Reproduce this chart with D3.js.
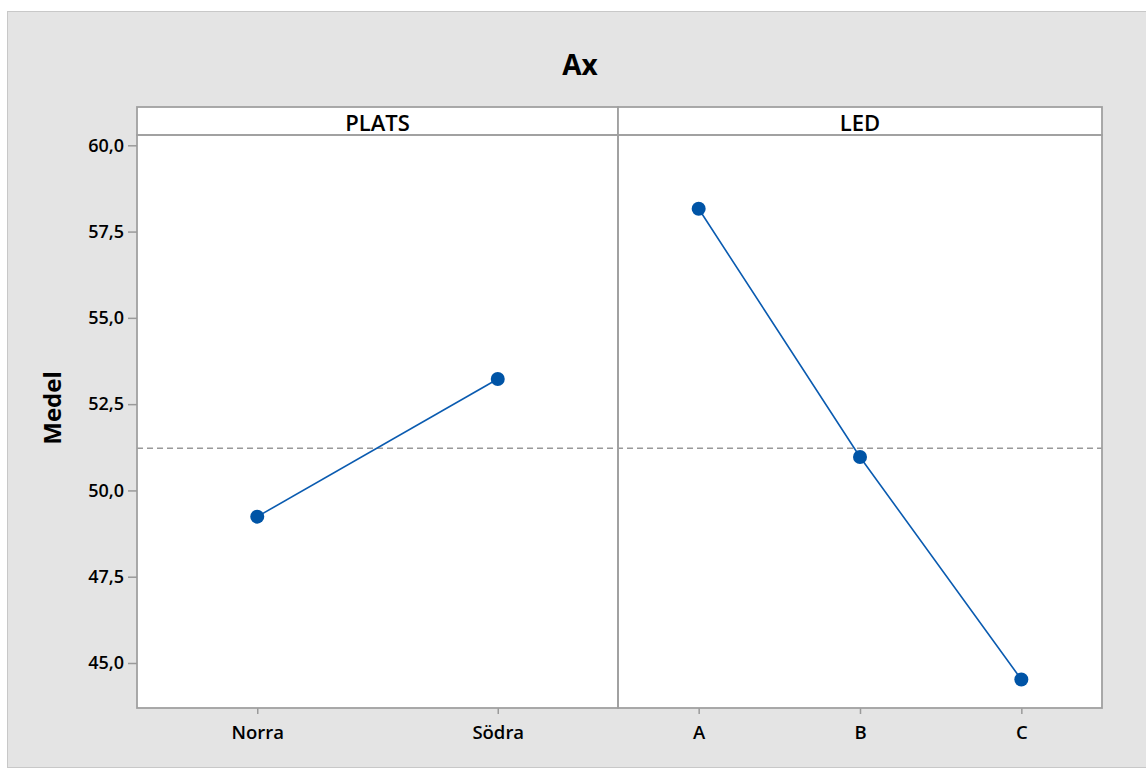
<!DOCTYPE html>
<html>
<head>
<meta charset="utf-8">
<script src="https://cdn.jsdelivr.net/npm/d3@7"></script>
<style>
  body { margin: 0; background: #fff; }
  text { font-family: "Open Sans", "Noto Sans", sans-serif; fill: #000; }
</style>
</head>
<body>
<div id="chart"></div>
<script>
// data
const platsLevels = ["Norra", "Södra"];
const platsMeans = [49.24, 53.23];
const ledLevels = ["A", "B", "C"];
const ledMeans = [58.16, 50.97, 44.52];
const grandMean = 51.22;
const yTicks = [45, 47.5, 50, 52.5, 55, 57.5, 60];

const width = 1146, height = 769;
const panel = { left: 137, top: 107, stripBottom: 135, bottom: 708, split: 618, right: 1102 };

const svg = d3.select("#chart").append("svg")
  .attr("width", width)
  .attr("height", height);

// grey background frame
svg.append("rect")
  .attr("x", 7.5).attr("y", 11.5)
  .attr("width", width).attr("height", 756)
  .attr("fill", "#e4e4e4")
  .attr("stroke", "#c8c8c8");

svg.append("text")
  .attr("x", 580).attr("y", 75)
  .attr("text-anchor", "middle")
  .attr("font-size", "28px")
  .attr("font-weight", "bold")
  .text("Ax");

const yScale = d3.scaleLinear()
  .domain([45, 60])
  .range([663, 145.3]);

const panels = [
  { name: "PLATS", levels: platsLevels, means: platsMeans, x0: panel.left, x1: panel.split },
  { name: "LED", levels: ledLevels, means: ledMeans, x0: panel.split, x1: panel.right }
];

panels.forEach(p => {
  svg.append("rect")
    .attr("x", p.x0).attr("y", panel.top)
    .attr("width", p.x1 - p.x0).attr("height", panel.bottom - panel.top)
    .attr("fill", "#fff");
});

// mean reference line
svg.append("line")
  .attr("x1", panel.left).attr("x2", panel.right)
  .attr("y1", yScale(grandMean)).attr("y2", yScale(grandMean))
  .attr("stroke", "#999")
  .attr("stroke-width", 1.5)
  .attr("stroke-dasharray", "6 4");

panels.forEach(p => {
  const xScale = d3.scalePoint()
    .domain(p.levels)
    .range([p.x0, p.x1])
    .padding(0.5);

  const pts = p.levels.map((lv, i) => ({ lv, v: p.means[i] }));

  svg.append("path")
    .datum(pts)
    .attr("fill", "none")
    .attr("stroke", "#0a5bb0")
    .attr("stroke-width", 1.6)
    .attr("d", d3.line().x(d => xScale(d.lv)).y(d => yScale(d.v)));

  svg.selectAll(null)
    .data(pts)
    .enter()
    .append("circle")
    .attr("cx", d => xScale(d.lv))
    .attr("cy", d => yScale(d.v))
    .attr("r", 7)
    .attr("fill", "#0054a6");

  // x axis
  const xAxis = svg.append("g")
    .attr("transform", `translate(0,${panel.bottom})`)
    .call(d3.axisBottom(xScale).tickSize(6).tickPadding(12));
  xAxis.select(".domain").remove();
  xAxis.selectAll(".tick line").attr("stroke", "#9a9a9a").attr("stroke-width", 1.5);
  xAxis.selectAll(".tick text")
    .attr("font-size", "18.5px")
    .attr("font-weight", "600")
    .attr("font-family", "'Open Sans', sans-serif");

  // strip
  svg.append("rect")
    .attr("x", p.x0).attr("y", panel.top)
    .attr("width", p.x1 - p.x0).attr("height", panel.stripBottom - panel.top)
    .attr("fill", "#fff")
    .attr("stroke", "#a0a0a0")
    .attr("stroke-width", 1.8);
  svg.append("text")
    .attr("x", (p.x0 + p.x1) / 2).attr("y", panel.top + 24)
    .attr("text-anchor", "middle")
    .attr("font-size", "22px")
    .attr("font-weight", "600")
    .text(p.name);

  svg.append("rect")
    .attr("x", p.x0).attr("y", panel.stripBottom)
    .attr("width", p.x1 - p.x0).attr("height", panel.bottom - panel.stripBottom)
    .attr("fill", "none")
    .attr("stroke", "#a0a0a0")
    .attr("stroke-width", 1.8);
});

// y axis
const yAxis = svg.append("g")
  .attr("transform", `translate(${panel.left},0)`)
  .call(d3.axisLeft(yScale)
    .tickValues(yTicks)
    .tickSize(9)
    .tickPadding(4)
    .tickFormat(d => d3.format(".1f")(d).replace(".", ",")));
yAxis.select(".domain").remove();
yAxis.selectAll(".tick line").attr("stroke", "#9a9a9a").attr("stroke-width", 1.5);
yAxis.selectAll(".tick text")
  .attr("font-size", "18px")
  .attr("font-weight", "600")
  .attr("font-family", "'Open Sans', sans-serif");

svg.append("text")
  .attr("transform", "translate(61,408) rotate(-90)")
  .attr("text-anchor", "middle")
  .attr("font-size", "24px")
  .attr("font-weight", "bold")
  .text("Medel");
</script>
</body>
</html>
